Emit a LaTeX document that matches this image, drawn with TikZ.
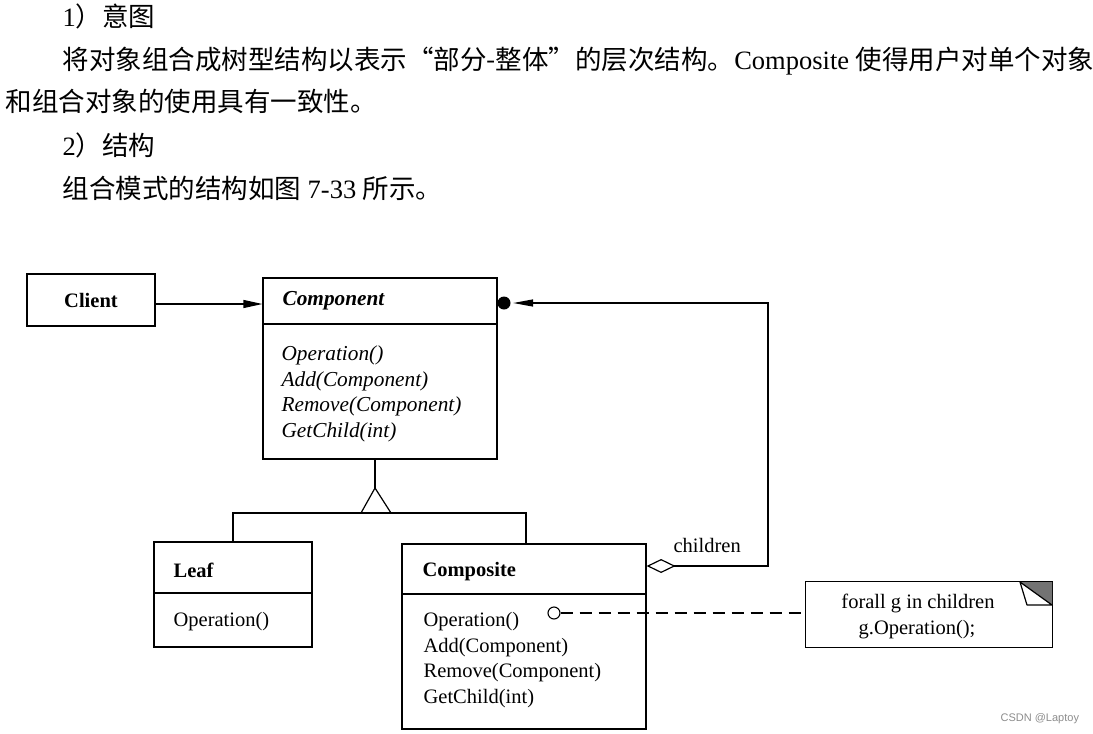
\documentclass[tikz,border=0pt]{standalone}
\usepackage{fontspec}
\setmainfont{Liberation Serif}
\newfontfamily\cjk{Noto Sans CJK SC}
\newfontfamily\wmfont{Liberation Sans}
\usetikzlibrary{arrows.meta,calc}
\begin{document}
\begin{tikzpicture}[x=1pt,y=-1pt,
  line width=1.2pt,
  classbox/.style={draw, rectangle, inner sep=0pt},
  para/.style={anchor=base west, inner sep=0pt, font=\fontsize{26.5}{30}\selectfont},
  uml/.style={anchor=base west, inner sep=0pt, font=\fontsize{20.5}{24}\selectfont},
  umli/.style={uml, font=\fontsize{21.3}{24}\selectfont\itshape},
  umlb/.style={uml, font=\fontsize{20.5}{24}\selectfont\bfseries},
  umlbi/.style={uml, font=\fontsize{21.3}{24}\selectfont\bfseries\itshape},
  notetext/.style={anchor=base, inner sep=0pt, font=\fontsize{20.5}{24}\selectfont},
  assoc/.style={-{Triangle[length=19pt,width=8pt]}},
]
\useasboundingbox (0,0) rectangle (1093,734);

% ---------- paragraph text ----------
\node[para] (t1) at (62,26) {1{\cjk ）意图}};
\node[para] (t2) at (62,69) {{\cjk 将对象组合成树型结构以表示“部分-整体”的层次结构。}Composite {\cjk 使得用户对单个对象}};
\node[para] (t3) at (5,111) {{\cjk 和组合对象的使用具有一致性。}};
\node[para] (t4) at (62,155) {2{\cjk ）结构}};
\node[para] (t5) at (62,198) {{\cjk 组合模式的结构如图} 7-33 {\cjk 所示。}};

% ---------- Client ----------
\node[classbox, minimum width=128pt, minimum height=52pt, font=\fontsize{20.5}{24}\selectfont\bfseries] (client) at (91,300) {Client};

% ---------- Component ----------
\node[classbox, minimum width=234pt, minimum height=181pt] (comp) at (380,368.5) {};
\draw (263,324) -- (497,324);
\node[umlbi] (compname) at (282,305) {Component};
\node[umli] (cop1) at (281,360) {Operation()};
\node[umli] (cop2) at (281,386) {Add(Component)};
\node[umli] (cop3) at (281,411) {Remove(Component)};
\node[umli] (cop4) at (281,437) {GetChild(int)};

% ---------- Leaf ----------
\node[classbox, minimum width=158pt, minimum height=105pt] (leaf) at (233,594.5) {};
\draw (154,593) -- (312,593);
\node[umlb] (leafname) at (173,577) {Leaf};
\node[uml] (lop1) at (173,626) {Operation()};

% ---------- Composite ----------
\node[classbox, minimum width=244pt, minimum height=185pt] (cmp) at (524,636.5) {};
\draw (402,594) -- (646,594);
\node[umlb] (cmpname) at (422,576) {Composite};
\node[uml] (kop1) at (423,626) {Operation()};
\node[uml] (kop2) at (423,652) {Add(Component)};
\node[uml] (kop3) at (423,677) {Remove(Component)};
\node[uml] (kop4) at (423,703) {GetChild(int)};

% ---------- Note ----------
\node[minimum width=246pt, minimum height=65pt, inner sep=0pt] (note) at (929,614.5) {};
\draw (note.north west) rectangle (note.south east);
\fill[black!55] (1020,582) -- (1052,582) -- (1052,605) -- cycle;
\draw[line join=round] (1020,582) -- (1027,605) -- (1052,605) -- cycle;
\node[notetext] (n1) at (918,608) {forall g in children};
\node[notetext] (n2) at (917,634) {g.Operation();};

% ---------- connectors ----------
% Client -> Component
\draw[assoc] ([yshift=-4pt]client.east) -- ([yshift=-4pt]client.east -| comp.west);

% aggregation children
\node[circle, fill=black, inner sep=0pt, minimum size=13pt] (dot) at (504,303) {};
\coordinate (aggcorner) at (768,303);
\draw[{Diamond[open,length=29pt,width=14pt]}-{Triangle[length=20pt,width=7pt]}]
  ([yshift=70.5pt]cmp.east) -| (aggcorner) -- ([xshift=2pt]dot.east);
\node[uml] (childlbl) at (673,552) {children};

% inheritance
\coordinate (apex) at (375,488);
\coordinate (bus) at (375,513);
\draw ([xshift=-5pt]comp.south) -- (apex);
\draw[line join=miter] (apex) -- (361,513) -- (391,513) -- cycle;
\draw (leaf.north) |- (bus) -- (526,513) -- (526,544);

% note link
\node[circle, draw, inner sep=0pt, minimum size=12pt, line width=1.1pt] (oc) at (554,613) {};
\draw[dash pattern=on 12pt off 7pt] (oc.east) -- (oc.east -| note.west);

% watermark
\node[anchor=base west, inner sep=0pt, text=black!45, font=\wmfont\fontsize{11}{13}\selectfont] (wm) at (1000,721) {CSDN @Laptoy};
\end{tikzpicture}
\end{document}
